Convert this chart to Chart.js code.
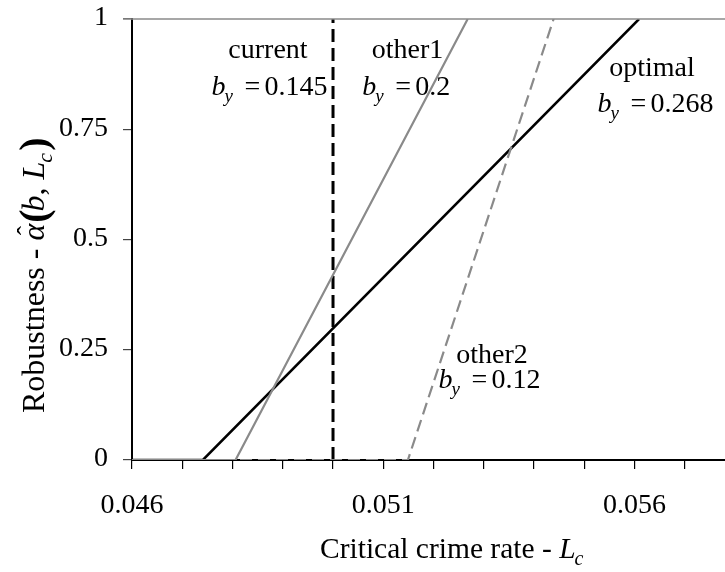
<!DOCTYPE html>
<html>
<head>
<meta charset="utf-8">
<script src="https://cdn.jsdelivr.net/npm/chart.js@4.4.1/dist/chart.umd.min.js"></script>
<style>
  html, body { margin: 0; padding: 0; background: #ffffff; }
  #wrap { width: 725px; height: 572px; position: relative; }
</style>
</head>
<body>
<div id="wrap"><canvas id="c" width="725" height="572"></canvas></div>
<script>
// ---- data ----
const xOptimal = [0.046, 0.04741, 0.05609];
const yOptimal = [0, 0, 1];
const xOther1 = [0.046, 0.04806, 0.05268];
const yOther1 = [0, 0, 1];
const xOther2 = [0.046, 0.05149, 0.05439];
const yOther2 = [0, 0, 1];
const xCurrent = [0.05, 0.05];
const yCurrent = [0, 1];
const xLabelTicks = [0.046, 0.051, 0.056];
const yTickValues = [0, 0.25, 0.5, 0.75, 1];
const seriesNames = ['current', 'other1', 'optimal', 'other2'];
const seriesBy = ['0.145', '0.2', '0.268', '0.12'];

const FONT = '"Liberation Serif", "Times New Roman", serif';

function pts(xs, ys) { return xs.map((x, i) => ({ x: x, y: ys[i] })); }

// annotation anchors (data coordinates)
const annot = [
  { name: seriesNames[0], by: seriesBy[0], nx: 0.048706, ny: 0.9126, bx: 0.047582, byy: 0.8286 },
  { name: seriesNames[1], by: seriesBy[1], nx: 0.051483, ny: 0.9126, bx: 0.050581, byy: 0.8286 },
  { name: seriesNames[2], by: seriesBy[2], nx: 0.056348, ny: 0.8717, bx: 0.055264, byy: 0.7900 },
  { name: seriesNames[3], by: seriesBy[3], nx: 0.053164, ny: 0.2209, bx: 0.052100, byy: 0.1634 }
];

function drawBy(ctx, x0, base, val) {
  ctx.textAlign = 'left';
  ctx.textBaseline = 'alphabetic';
  ctx.fillStyle = '#000';
  ctx.font = 'italic 28px ' + FONT;
  ctx.fillText('b', x0, base);
  ctx.font = 'italic 19px ' + FONT;
  ctx.fillText('y', x0 + 13, base + 7);
  ctx.font = '28px ' + FONT;
  ctx.fillText('=', x0 + 33, base);
  ctx.fillText(val, x0 + 53, base);
}

const textPlugin = {
  id: 'texts',
  afterDraw(chart) {
    const ctx = chart.ctx;
    const xs = chart.scales.x, ys = chart.scales.y;
    const ca = chart.chartArea;
    ctx.save();
    // top line
    ctx.strokeStyle = '#8a8a8a';
    ctx.lineWidth = 1.5;
    ctx.beginPath();
    ctx.moveTo(ca.left - 9, ys.getPixelForValue(1));
    ctx.lineTo(ca.right, ys.getPixelForValue(1));
    ctx.stroke();

    // annotations
    annot.forEach(a => {
      ctx.font = '28px ' + FONT;
      ctx.fillStyle = '#000';
      ctx.textAlign = 'center';
      ctx.textBaseline = 'alphabetic';
      ctx.fillText(a.name, xs.getPixelForValue(a.nx), ys.getPixelForValue(a.ny));
      drawBy(ctx, xs.getPixelForValue(a.bx), ys.getPixelForValue(a.byy), a.by);
    });

    // x axis title
    ctx.textAlign = 'left';
    ctx.textBaseline = 'alphabetic';
    ctx.font = '29.5px ' + FONT;
    let tx = 320, tb = 558;
    const t1 = 'Critical crime rate - ';
    ctx.fillText(t1, tx, tb);
    tx += ctx.measureText(t1).width;
    ctx.font = 'italic 29.5px ' + FONT;
    ctx.fillText('L', tx, tb);
    tx += ctx.measureText('L').width - 1;
    ctx.font = 'italic 20px ' + FONT;
    ctx.fillText('c', tx, tb + 7);

    // y axis title (rotated)
    ctx.save();
    ctx.translate(44, 413);
    ctx.rotate(-Math.PI / 2);
    let px = 0;
    ctx.font = '32px ' + FONT;
    const r1 = 'Robustness - ';
    ctx.fillText(r1, px, 0);
    px += ctx.measureText(r1).width;
    ctx.font = 'italic 32px ' + FONT;
    ctx.fillText('\u03B1', px, 0);
    const aw = ctx.measureText('\u03B1').width;
    ctx.font = '28px ' + FONT;
    ctx.fillText('\u02C6', px + aw / 2 - 3, -8);
    px += aw + 1;
    ctx.font = 'bold 40px ' + FONT;
    ctx.fillText('(', px, 3);
    px += ctx.measureText('(').width - 2;
    ctx.font = 'italic 32px ' + FONT;
    ctx.fillText('b', px, 0);
    px += ctx.measureText('b').width;
    ctx.font = '32px ' + FONT;
    ctx.fillText(',', px, 0);
    px += ctx.measureText(', ').width;
    ctx.font = 'italic 32px ' + FONT;
    ctx.fillText('L', px, 0);
    px += ctx.measureText('L').width - 1;
    ctx.font = 'italic 22px ' + FONT;
    ctx.fillText('c', px, 8);
    px += ctx.measureText('c').width + 2;
    ctx.font = 'bold 40px ' + FONT;
    ctx.fillText(')', px, 3);
    ctx.restore();

    ctx.restore();
  }
};

const GRAY = '#8a8a8a';

function zeroPad(s) { s.paddingTop = 0; s.paddingBottom = 0; s.paddingLeft = 0; s.paddingRight = 0; }

new Chart(document.getElementById('c'), {
  type: 'scatter',
  data: {
    datasets: [
      { label: 'other2', data: pts(xOther2, yOther2), showLine: true, borderColor: GRAY, borderWidth: 2.2, borderDash: [12, 6], pointRadius: 0, fill: false },
      { label: 'other1', data: pts(xOther1, yOther1), showLine: true, borderColor: GRAY, borderWidth: 2.2, pointRadius: 0, fill: false },
      { label: 'optimal', data: pts(xOptimal, yOptimal), showLine: true, borderColor: '#000', borderWidth: 2.5, pointRadius: 0, fill: false },
      { label: 'current', data: pts(xCurrent, yCurrent), showLine: true, borderColor: '#000', borderWidth: 3, borderDash: [13, 6], pointRadius: 0, fill: false }
    ]
  },
  options: {
    responsive: false,
    animation: false,
    devicePixelRatio: 1,
    layout: { padding: { top: 19, right: 0, left: 0, bottom: 0 } },
    plugins: { legend: { display: false }, tooltip: { enabled: false } },
    scales: {
      x: {
        type: 'linear',
        min: 0.046,
        max: 0.0578,
        afterFit(s) { s.height = 112; zeroPad(s); },
        border: { color: '#000', width: 2 },
        grid: { drawOnChartArea: false, drawTicks: true, tickLength: 9, color: '#000', lineWidth: 1.2 },
        ticks: {
          stepSize: 0.001,
          includeBounds: false,
          autoSkip: false,
          maxRotation: 0,
          minRotation: 0,
          padding: 20,
          color: '#000',
          font: { family: FONT, size: 28 },
          callback(v) {
            const hit = xLabelTicks.find(t => Math.abs(t - v) < 1e-7);
            return hit !== undefined ? hit.toFixed(3) : '';
          }
        },
        title: { display: false }
      },
      y: {
        min: 0,
        max: 1,
        afterFit(s) { s.width = 132; zeroPad(s); },
        border: { color: '#000', width: 2 },
        grid: { drawOnChartArea: false, drawTicks: true, tickLength: 9, color: '#444', lineWidth: 1.2 },
        afterBuildTicks(s) { s.ticks = yTickValues.map(v => ({ value: v })); },
        ticks: {
          padding: 15,
          labelOffset: -1,
          color: '#000',
          font: { family: FONT, size: 28 },
          callback(v) { return String(v); }
        },
        title: { display: false }
      }
    }
  },
  plugins: [textPlugin]
});
</script>
</body>
</html>
